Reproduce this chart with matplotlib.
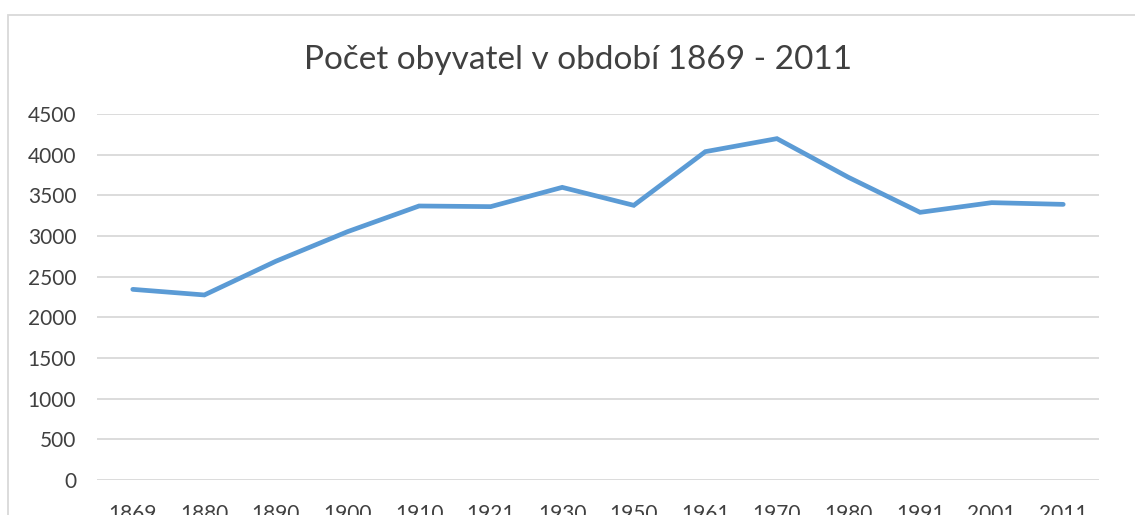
import matplotlib.pyplot as plt
from matplotlib.patches import Rectangle

# population by census year
years = ['1869', '1880', '1890', '1900', '1910', '1921', '1930',
         '1950', '1961', '1970', '1980', '1991', '2001', '2011']
population = [2344, 2275, 2690, 3053, 3369, 3361, 3598,
              3377, 4037, 4197, 3721, 3291, 3410, 3389]
y_ticks = [0, 500, 1000, 1500, 2000, 2500, 3000, 3500, 4000, 4500]

plt.rcParams['font.family'] = ['Lato', 'DejaVu Sans']
txt = '#404040'
grid = '#d9d9d9'

fig = plt.figure(figsize=(11.35, 5.15), dpi=100)
ax = fig.add_axes([97/1135, 1 - 480/515, (1099-97)/1135, (480-114)/515])

x = range(len(years))
ax.plot(x, population, color='#5b9bd5', lw=3.4, solid_capstyle='round',
        solid_joinstyle='miter', zorder=3)

ax.set_xlim(-0.5, len(years) - 0.5)
ax.set_ylim(0, 4500)
ax.set_yticks(y_ticks)
ax.set_xticks(list(x))
ax.set_xticklabels(years)
ax.yaxis.grid(True, color=grid, lw=1.3)
ax.set_axisbelow(True)
for s in ax.spines.values():
    s.set_visible(False)
ax.tick_params(axis='both', length=0, labelsize=15, labelcolor=txt)
ax.tick_params(axis='y', pad=15)
ax.tick_params(axis='x', pad=17)

fig.text(578/1135, 1 - 60/515, 'Počet obyvatel v období 1869 - 2011',
         ha='center', va='center', fontsize=24, color=txt)

# chart area border (runs off the image on right and bottom)
fig.patches.append(Rectangle((8/1135, -0.2), 1.2, 1.2 - 15/515,
                             transform=fig.transFigure, fill=False,
                             edgecolor=grid, lw=1.3))

fig.savefig('out.png', dpi=100)
